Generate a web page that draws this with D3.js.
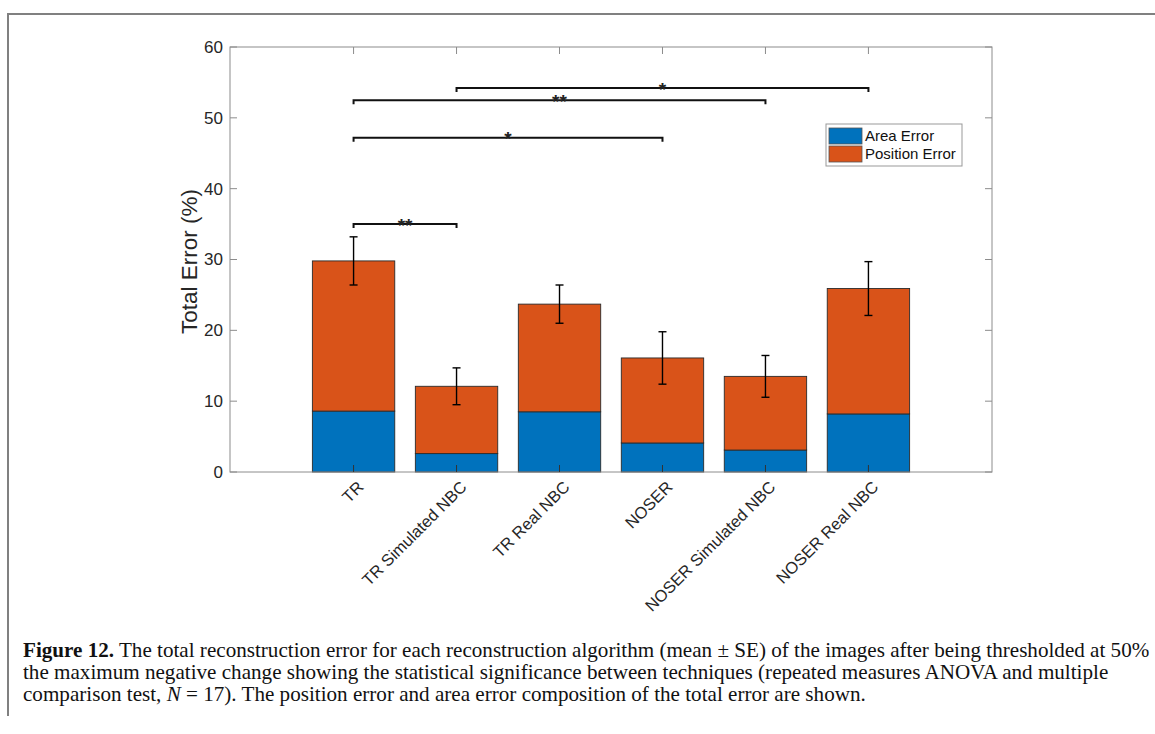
<!DOCTYPE html>
<html>
<head>
<meta charset="utf-8">
<script src="https://cdn.jsdelivr.net/npm/d3@7"></script>
<style>
  html, body { margin: 0; padding: 0; background: #fff; }
  svg { display: block; }
</style>
</head>
<body>
<svg id="fig" width="1155" height="734"></svg>
<script>
// Reconstruction algorithms compared
const categories = ["TR", "TR Simulated NBC", "TR Real NBC", "NOSER", "NOSER Simulated NBC", "NOSER Real NBC"];
// Mean error components (%)
const areaError = [8.6, 2.6, 8.5, 4.1, 3.1, 8.2];
const positionError = [21.2, 9.5, 15.2, 12.0, 10.4, 17.7];
// Standard error of the total error (%)
const standardError = [3.4, 2.6, 2.7, 3.7, 2.95, 3.8];
const seriesNames = ["Area Error", "Position Error"];
const seriesColors = ["#0072BD", "#D95319"];
const yTicks = [0, 10, 20, 30, 40, 50, 60];
// Pairwise significance: from / to category index, bracket height (%), marker
const sigFrom = [0, 0, 0, 1];
const sigTo = [1, 3, 4, 5];
const sigHeight = [35.0, 47.2, 52.5, 54.2];
const sigLabel = ["**", "*", "**", "*"];

const svg = d3.select("#fig");
const sans = "'Liberation Sans', Arial, Helvetica, sans-serif";
const serif = "'Liberation Serif', 'Times New Roman', serif";

// Page frame
svg.append("path")
  .attr("d", "M8,716 V14 H1155")
  .attr("fill", "none").attr("stroke", "#808080").attr("stroke-width", 2);

const plot = { left: 230, right: 992, top: 47, bottom: 472 };
const x = d3.scaleLinear().domain([-1.2, 6.2]).range([plot.left, plot.right]);
const y = d3.scaleLinear().domain([0, 60]).range([plot.bottom, plot.top]);
const barW = (x(0.8) - x(0));

// Stacked bars
const rows = categories.map((c, i) => ({ i, "Area Error": areaError[i], "Position Error": positionError[i] }));
const stacked = d3.stack().keys(seriesNames)(rows);
const g = svg.append("g");
stacked.forEach((layer, k) => {
  g.selectAll(null).data(layer).join("rect")
    .attr("x", d => x(d.data.i) - barW / 2)
    .attr("width", barW)
    .attr("y", d => y(d[1]))
    .attr("height", d => y(d[0]) - y(d[1]))
    .attr("fill", seriesColors[k])
    .attr("stroke", "#2b2b2b").attr("stroke-width", 0.9);
});

// Axes box with inward ticks
const axisCol = "#8c8c8c";
const tickLen = 7;
const ax = svg.append("g").attr("stroke", axisCol).attr("stroke-width", 1).attr("fill", "none");
ax.append("rect")
  .attr("x", plot.left).attr("y", plot.top)
  .attr("width", plot.right - plot.left).attr("height", plot.bottom - plot.top);
yTicks.forEach(t => {
  ax.append("line").attr("x1", plot.left).attr("x2", plot.left + tickLen).attr("y1", y(t)).attr("y2", y(t));
  ax.append("line").attr("x1", plot.right).attr("x2", plot.right - tickLen).attr("y1", y(t)).attr("y2", y(t));
});
categories.forEach((c, i) => {
  svg.append("line").attr("x1", x(i)).attr("x2", x(i)).attr("y1", plot.bottom).attr("y2", plot.bottom - tickLen)
    .attr("stroke", "#333").attr("stroke-width", 1);
  ax.append("line").attr("x1", x(i)).attr("x2", x(i)).attr("y1", plot.top).attr("y2", plot.top + tickLen);
});

// Y tick labels
svg.append("g").selectAll("text").data(yTicks).join("text")
  .attr("x", plot.left - 7).attr("y", d => y(d))
  .attr("dy", "0.35em").attr("text-anchor", "end")
  .attr("font-family", sans).attr("font-size", 17).attr("fill", "#262626")
  .text(d => d);

// Y axis title
svg.append("text")
  .attr("transform", `translate(197, ${(plot.top + plot.bottom) / 2 + 2}) rotate(-90)`)
  .attr("text-anchor", "middle")
  .attr("font-family", sans).attr("font-size", 22.5).attr("fill", "#262626")
  .text("Total Error (%)");

// X tick labels, rotated
svg.append("g").selectAll("text").data(categories).join("text")
  .attr("transform", (d, i) => `translate(${x(i) + 7}, ${plot.bottom + 12}) rotate(-45)`)
  .attr("text-anchor", "end").attr("dy", "0.35em")
  .attr("font-family", sans).attr("font-size", 16.5).attr("fill", "#262626")
  .text(d => d);

// Error bars
const eb = svg.append("g").attr("stroke", "#000").attr("stroke-width", 1.4);
categories.forEach((c, i) => {
  const m = areaError[i] + positionError[i];
  const hi = y(m + standardError[i]), lo = y(m - standardError[i]);
  eb.append("line").attr("x1", x(i)).attr("x2", x(i)).attr("y1", hi).attr("y2", lo);
  eb.append("line").attr("x1", x(i) - 4).attr("x2", x(i) + 4).attr("y1", hi).attr("y2", hi);
  eb.append("line").attr("x1", x(i) - 4).attr("x2", x(i) + 4).attr("y1", lo).attr("y2", lo);
});

// Significance brackets
const sg = svg.append("g");
sigFrom.forEach((a, k) => {
  const yy = y(sigHeight[k]);
  const xa = x(a), xb = x(sigTo[k]);
  sg.append("path")
    .attr("d", `M${xa},${yy + 4} V${yy} H${xb} V${yy + 4}`)
    .attr("fill", "none").attr("stroke", "#111").attr("stroke-width", 2);
  sg.append("text")
    .attr("x", (xa + xb) / 2).attr("y", yy + 7.5)
    .attr("text-anchor", "middle")
    .attr("font-family", sans).attr("font-size", 19).attr("font-weight", "bold").attr("fill", "#222")
    .text(sigLabel[k]);
});

// Legend
const lg = svg.append("g").attr("transform", "translate(826,124)");
lg.append("rect").attr("width", 136).attr("height", 42)
  .attr("fill", "#fff").attr("stroke", "#999").attr("stroke-width", 1);
seriesNames.forEach((s, k) => {
  lg.append("rect").attr("x", 3).attr("y", 4 + k * 18).attr("width", 33).attr("height", 16)
    .attr("fill", seriesColors[k]).attr("stroke", "#555").attr("stroke-width", 0.8);
  lg.append("text").attr("x", 39).attr("y", 12 + k * 18).attr("dy", "0.35em")
    .attr("font-family", sans).attr("font-size", 15).attr("fill", "#111")
    .text(s);
});

// Caption
const cap = svg.append("g").attr("font-family", serif).attr("fill", "#111");
const line1 = cap.append("text").attr("x", 23).attr("y", 657);
line1.append("tspan").attr("font-weight", "bold").text("Figure 12.");
line1.append("tspan").text(" The total reconstruction error for each reconstruction algorithm (mean \u00b1 SE) of the images after being thresholded at 50%");
const line2 = cap.append("text").attr("x", 23).attr("y", 679)
  .text("the maximum negative change showing the statistical significance between techniques (repeated measures ANOVA and multiple");
const line3 = cap.append("text").attr("x", 23).attr("y", 701);
line3.append("tspan").text("comparison test, ");
line3.append("tspan").attr("font-style", "italic").text("N");
line3.append("tspan").text(" = 17). The position error and area error composition of the total error are shown.");

// Size caption font so the first line spans the frame width
cap.attr("font-size", 16);
const w = line1.node().getComputedTextLength();
const fs = 16 * 1127 / w;
cap.attr("font-size", fs);
</script>
</body>
</html>
